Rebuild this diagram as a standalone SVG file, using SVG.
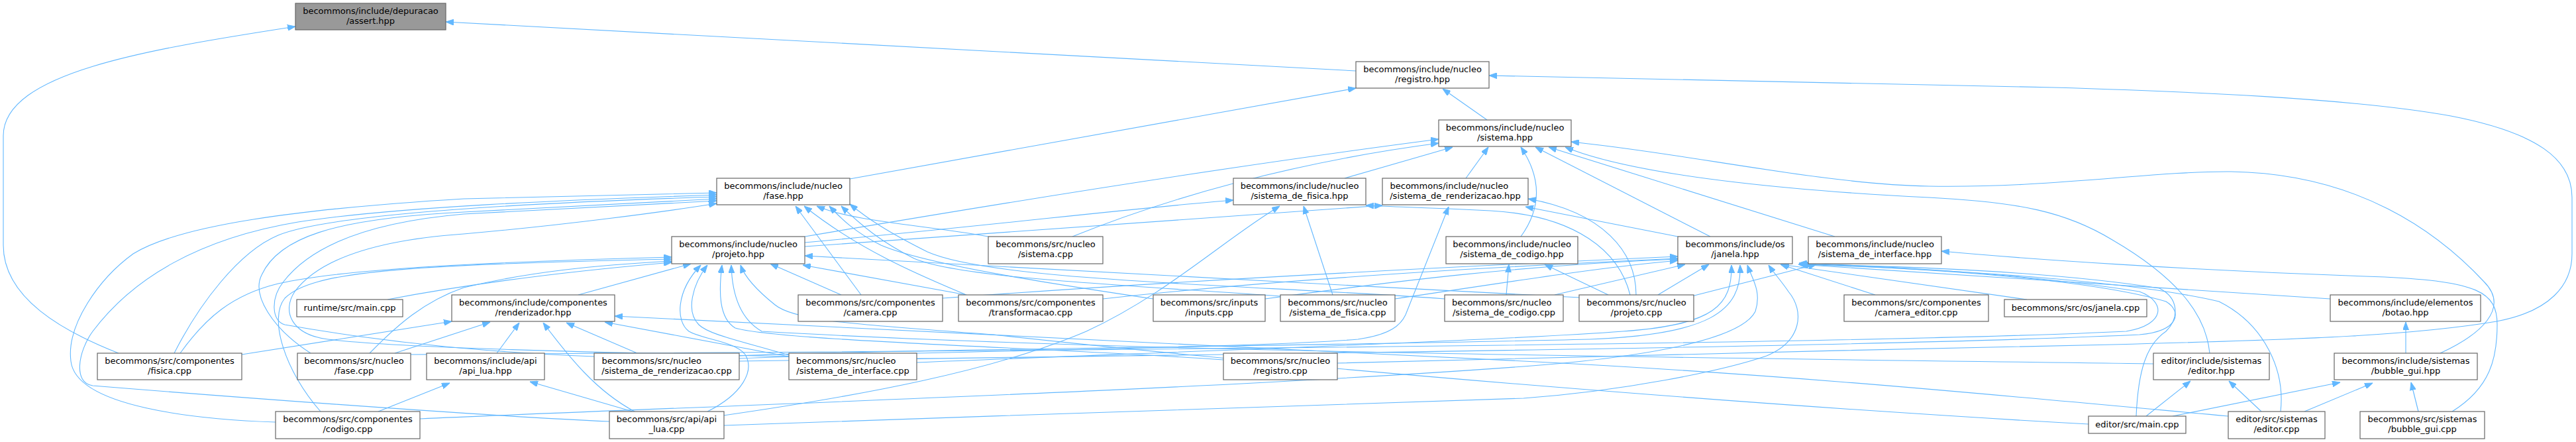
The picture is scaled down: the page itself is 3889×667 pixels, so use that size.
<svg xmlns="http://www.w3.org/2000/svg" width="3889" height="667" viewBox="0 0 3889 667">
<defs>
<marker id="ah" markerWidth="12" markerHeight="9" refX="12" refY="4.5" orient="auto" markerUnits="userSpaceOnUse"><path d="M0,0 L12,4.5 L0,9 Z" fill="#63b8ff" stroke="#63b8ff" stroke-width="1"/></marker>
<style>
.node rect{fill:#ffffff;stroke:#666666;stroke-width:1.2}
.node.hl rect{fill:#999999}
.node text{font-family:"DejaVu Sans","Liberation Sans",sans-serif;font-size:13px;fill:#000000}
.c{text-anchor:middle}
.l{text-anchor:start}
#edges path{fill:none;stroke:#63b8ff;stroke-width:1.1;marker-end:url(#ah)}
</style>
</defs>
<rect x="0" y="0" width="3889" height="667" fill="#ffffff"/>
<g id="edges">
<path d="M2047,107 L673,33"/>
<path d="M179,533 C95,500 5,450 5,370 L5,205 C5,110 220,75 446,40"/>
<path d="M1283,270 L2047,133"/>
<path d="M2245,181 L2178,134"/>
<path d="M2019,548 C2300,540 2800,528 3189,520 C3500,512 3650,505 3769,485 C3850,470 3883,430 3883,383 L3883,298 C3883,240 3830,200 3700,175 C3550,148 3300,138 3100,132 L2248,114"/>
<path d="M1619,357 C1760,300 1950,245 2172,216"/>
<path d="M1215,357 C1550,300 1900,245 2172,210"/>
<path d="M2030,269 L2193,222"/>
<path d="M2213,269 L2247,222"/>
<path d="M2296,357 C2330,310 2325,265 2296,222"/>
<path d="M2582,357 L2318,222"/>
<path d="M2770,357 L2338,222"/>
<path d="M3336,533 C3330,470 3280,415 3189,362 C3120,320 3050,305 2912,298 C2750,290 2480,270 2363,222"/>
<path d="M3684,533 C3745,505 3790,465 3750,425 C3680,350 3560,262 3368,259 C3250,258 3100,284 2912,281 C2750,278 2550,232 2372,214"/>
<path d="M416,637 C300,633 115,615 107,545 C100,490 150,420 201,383 C270,340 450,315 700,300 L1082,291"/>
<path d="M920,636 C700,626 300,595 140,582 C110,578 118,530 140,500 C200,420 300,360 450,335 C600,312 850,302 1082,294"/>
<path d="M263,533 C300,460 360,380 420,355 C500,322 800,306 1082,297"/>
<path d="M469,533 C410,495 380,445 395,415 C420,360 500,330 700,320 C850,312 1000,305 1082,300"/>
<path d="M897,538 C750,532 600,520 430,490 C410,485 408,450 428,425 C470,370 560,335 700,323 L1082,303"/>
<path d="M1191,538 C900,532 600,525 495,512 C440,505 425,470 445,440 C490,380 600,360 700,353 C850,340 1000,320 1082,307"/>
<path d="M272,533 C310,480 350,445 420,428 C520,405 750,395 1014,388"/>
<path d="M484,621 C430,560 405,480 430,450 C470,410 600,400 1014,391"/>
<path d="M558,533 C600,490 640,455 700,434 C800,410 900,400 1014,394"/>
<path d="M585,452 C700,430 850,410 1014,396"/>
<path d="M873,445 L1043,398"/>
<path d="M1068,621 C1120,595 1140,560 1125,535 C1110,515 1060,512 1040,500 C1020,485 1020,440 1058,400"/>
<path d="M1191,536 C1120,515 1070,505 1055,490 C1035,470 1045,430 1068,400"/>
<path d="M1270,445 L1163,398"/>
<path d="M1459,445 L1212,400"/>
<path d="M2385,449 C2000,430 1500,400 1215,386"/>
<path d="M1847,543 C1600,525 1180,515 1110,495 C1085,480 1085,440 1090,400"/>
<path d="M3251,549 C2600,540 1700,532 1150,500 C1115,480 1105,440 1104,400"/>
<path d="M3153,640 C2700,615 2000,560 1500,505 C1300,490 1200,485 1170,460 C1145,440 1125,420 1118,400"/>
<path d="M1300,445 L1201,311"/>
<path d="M1459,445 C1400,420 1300,380 1214,311"/>
<path d="M1492,357 C1400,340 1290,335 1233,311"/>
<path d="M1741,451 C1600,430 1400,400 1330,370 C1290,350 1270,330 1252,311"/>
<path d="M1933,447 C1700,430 1450,420 1380,390 C1330,365 1300,340 1270,311"/>
<path d="M2181,451 C1900,430 1500,425 1400,380 C1340,350 1310,330 1283,308"/>
<path d="M1215,366 C1500,340 1700,315 1862,302"/>
<path d="M2012,445 L1968,311"/>
<path d="M1092,627 C1300,597 1500,560 1640,500 C1760,445 1850,360 1932,311"/>
<path d="M2461,445 C2445,380 2380,325 2250,318 C2150,313 2100,312 2062,310"/>
<path d="M1215,372 C1600,345 1900,322 2087,310"/>
<path d="M1116,541 C1400,530 1900,525 2050,512 C2100,505 2115,490 2122,475 L2187,312"/>
<path d="M2533,357 L2303,312"/>
<path d="M2470,445 C2470,380 2420,320 2307,300"/>
<path d="M2274,445 L2278,399"/>
<path d="M2428,445 L2332,399"/>
<path d="M2347,445 L2544,399"/>
<path d="M2503,445 L2580,399"/>
<path d="M2831,445 L2688,399"/>
<path d="M3060,452 L2689,399"/>
<path d="M3518,451 C3200,432 2900,412 2715,399"/>
<path d="M2106,451 C2250,430 2400,405 2533,393"/>
<path d="M1665,451 C1900,425 2200,405 2533,390"/>
<path d="M1423,450 C1800,422 2200,402 2533,387"/>
<path d="M1910,451 C2100,425 2300,400 2533,391"/>
<path d="M1384,547 C1800,530 2280,513 2450,500 C2590,490 2615,460 2614,400"/>
<path d="M1116,537 C1300,528 2000,522 2400,512 C2580,505 2630,470 2627,400"/>
<path d="M634,632 C1000,615 1800,590 2300,553 C2500,538 2630,510 2650,470 C2660,440 2645,420 2638,400"/>
<path d="M1093,642 C1500,628 2000,610 2300,601 C2450,590 2600,560 2667,537 C2720,515 2725,470 2700,440 C2690,425 2678,412 2670,400"/>
<path d="M3225,628 C3228,560 3240,520 3270,500 C3290,480 3290,450 3260,435 C3100,410 2900,402 2716,399"/>
<path d="M3443,621 C3450,560 3420,490 3350,455 C3200,420 2900,405 2718,399"/>
<path d="M3702,621 C3760,585 3770,540 3770,490 C3770,440 3740,425 3600,418 C3300,408 3050,390 2931,379"/>
<path d="M1116,545 C1800,535 2800,525 3230,505 C3290,500 3295,470 3270,455 C3150,420 2900,405 2716,398"/>
<path d="M620,535 C1500,530 2800,520 3210,500 C3270,490 3270,455 3230,440 C3050,412 2850,402 2716,397"/>
<path d="M2550,448 L2742,399"/>
<path d="M3364,628 C3000,595 2700,565 2300,545 C1900,525 1500,506 928,477"/>
<path d="M365,535 L682,485"/>
<path d="M596,533 L740,486"/>
<path d="M750,533 L784,487"/>
<path d="M958,621 C900,590 860,540 820,487"/>
<path d="M962,533 L855,487"/>
<path d="M1191,538 L913,486"/>
<path d="M571,621 L679,578"/>
<path d="M955,621 L800,576"/>
<path d="M3632,533 L3632,486"/>
<path d="M3280,628 L3533,577"/>
<path d="M3479,621 L3582,578"/>
<path d="M3651,621 L3640,577"/>
<path d="M3240,628 L3307,575"/>
<path d="M3414,621 L3365,575"/>
</g>
<g id="n1" class="node hl"><rect x="446" y="5" width="227" height="40"/><text class="c" x="559.5" y="21">becommons/include/depuracao</text><text class="c" x="559.5" y="36">/assert.hpp</text></g>
<g id="n2" class="node"><rect x="2047" y="93" width="201" height="40"/><text class="c" x="2147.5" y="109">becommons/include/nucleo</text><text class="c" x="2147.5" y="124">/registro.hpp</text></g>
<g id="n3" class="node"><rect x="2172" y="181" width="200" height="40"/><text class="c" x="2272" y="197">becommons/include/nucleo</text><text class="c" x="2272" y="212">/sistema.hpp</text></g>
<g id="n4" class="node"><rect x="1082" y="269" width="201" height="40"/><text class="c" x="1182.5" y="285">becommons/include/nucleo</text><text class="c" x="1182.5" y="300">/fase.hpp</text></g>
<g id="n5" class="node"><rect x="1862" y="269" width="200" height="40"/><text class="c" x="1962" y="285">becommons/include/nucleo</text><text class="c" x="1962" y="300">/sistema_de_fisica.hpp</text></g>
<g id="n6" class="node"><rect x="2087" y="269" width="220" height="40"/><text class="l" x="2098.5" y="285">becommons/include/nucleo</text><text class="c" x="2197" y="300">/sistema_de_renderizacao.hpp</text></g>
<g id="n7" class="node"><rect x="1014" y="357" width="201" height="41"/><text class="c" x="1114.5" y="373">becommons/include/nucleo</text><text class="c" x="1114.5" y="388">/projeto.hpp</text></g>
<g id="n8" class="node"><rect x="1492" y="357" width="173" height="41"/><text class="c" x="1578.5" y="373">becommons/src/nucleo</text><text class="c" x="1578.5" y="388">/sistema.cpp</text></g>
<g id="n9" class="node"><rect x="2183" y="357" width="199" height="41"/><text class="c" x="2282.5" y="373">becommons/include/nucleo</text><text class="c" x="2282.5" y="388">/sistema_de_codigo.hpp</text></g>
<g id="n10" class="node"><rect x="2533" y="357" width="173" height="41"/><text class="c" x="2619.5" y="373">becommons/include/os</text><text class="c" x="2619.5" y="388">/janela.hpp</text></g>
<g id="n11" class="node"><rect x="2730" y="357" width="201" height="41"/><text class="c" x="2830.5" y="373">becommons/include/nucleo</text><text class="c" x="2830.5" y="388">/sistema_de_interface.hpp</text></g>
<g id="n12" class="node"><rect x="448" y="452" width="160" height="26"/><text class="c" x="528" y="469">runtime/src/main.cpp</text></g>
<g id="n13" class="node"><rect x="682" y="445" width="246" height="40"/><text class="c" x="805" y="461">becommons/include/componentes</text><text class="c" x="805" y="476">/renderizador.hpp</text></g>
<g id="n14" class="node"><rect x="1205" y="445" width="218" height="40"/><text class="c" x="1314" y="461">becommons/src/componentes</text><text class="c" x="1314" y="476">/camera.cpp</text></g>
<g id="n15" class="node"><rect x="1447" y="445" width="218" height="40"/><text class="c" x="1556" y="461">becommons/src/componentes</text><text class="c" x="1556" y="476">/transformacao.cpp</text></g>
<g id="n16" class="node"><rect x="1741" y="445" width="169" height="40"/><text class="c" x="1825.5" y="461">becommons/src/inputs</text><text class="c" x="1825.5" y="476">/inputs.cpp</text></g>
<g id="n17" class="node"><rect x="1933" y="445" width="173" height="40"/><text class="c" x="2019.5" y="461">becommons/src/nucleo</text><text class="c" x="2019.5" y="476">/sistema_de_fisica.cpp</text></g>
<g id="n18" class="node"><rect x="2181" y="445" width="179" height="40"/><text class="l" x="2192" y="461">becommons/src/nucleo</text><text class="c" x="2270.5" y="476">/sistema_de_codigo.cpp</text></g>
<g id="n19" class="node"><rect x="2384" y="445" width="173" height="40"/><text class="c" x="2470.5" y="461">becommons/src/nucleo</text><text class="c" x="2470.5" y="476">/projeto.cpp</text></g>
<g id="n20" class="node"><rect x="2784" y="445" width="218" height="40"/><text class="c" x="2893" y="461">becommons/src/componentes</text><text class="c" x="2893" y="476">/camera_editor.cpp</text></g>
<g id="n21" class="node"><rect x="3026" y="452" width="215" height="26"/><text class="c" x="3133.5" y="469">becommons/src/os/janela.cpp</text></g>
<g id="n22" class="node"><rect x="3518" y="445" width="227" height="40"/><text class="c" x="3631.5" y="461">becommons/include/elementos</text><text class="c" x="3631.5" y="476">/botao.hpp</text></g>
<g id="n23" class="node"><rect x="147" y="533" width="218" height="40"/><text class="c" x="256" y="549">becommons/src/componentes</text><text class="c" x="256" y="564">/fisica.cpp</text></g>
<g id="n24" class="node"><rect x="449" y="533" width="171" height="40"/><text class="c" x="534.5" y="549">becommons/src/nucleo</text><text class="c" x="534.5" y="564">/fase.cpp</text></g>
<g id="n25" class="node"><rect x="644" y="533" width="178" height="40"/><text class="c" x="733" y="549">becommons/include/api</text><text class="c" x="733" y="564">/api_lua.hpp</text></g>
<g id="n26" class="node"><rect x="897" y="533" width="219" height="40"/><text class="l" x="908.5" y="549">becommons/src/nucleo</text><text class="c" x="1006.5" y="564">/sistema_de_renderizacao.cpp</text></g>
<g id="n27" class="node"><rect x="1191" y="533" width="193" height="40"/><text class="l" x="1202" y="549">becommons/src/nucleo</text><text class="c" x="1287.5" y="564">/sistema_de_interface.cpp</text></g>
<g id="n28" class="node"><rect x="1847" y="533" width="172" height="40"/><text class="c" x="1933" y="549">becommons/src/nucleo</text><text class="c" x="1933" y="564">/registro.cpp</text></g>
<g id="n29" class="node"><rect x="3251" y="533" width="175" height="40"/><text class="c" x="3338.5" y="549">editor/include/sistemas</text><text class="c" x="3338.5" y="564">/editor.hpp</text></g>
<g id="n30" class="node"><rect x="3524" y="533" width="216" height="40"/><text class="c" x="3632" y="549">becommons/include/sistemas</text><text class="c" x="3632" y="564">/bubble_gui.hpp</text></g>
<g id="n31" class="node"><rect x="416" y="621" width="218" height="41"/><text class="c" x="525" y="637">becommons/src/componentes</text><text class="c" x="525" y="652">/codigo.cpp</text></g>
<g id="n32" class="node"><rect x="920" y="621" width="173" height="41"/><text class="c" x="1006.5" y="637">becommons/src/api/api</text><text class="c" x="1006.5" y="652">_lua.cpp</text></g>
<g id="n33" class="node"><rect x="3153" y="628" width="147" height="26"/><text class="c" x="3226.5" y="645">editor/src/main.cpp</text></g>
<g id="n34" class="node"><rect x="3364" y="621" width="146" height="41"/><text class="c" x="3437" y="637">editor/src/sistemas</text><text class="c" x="3437" y="652">/editor.cpp</text></g>
<g id="n35" class="node"><rect x="3563" y="621" width="188" height="41"/><text class="c" x="3657" y="637">becommons/src/sistemas</text><text class="c" x="3657" y="652">/bubble_gui.cpp</text></g>
</svg>
